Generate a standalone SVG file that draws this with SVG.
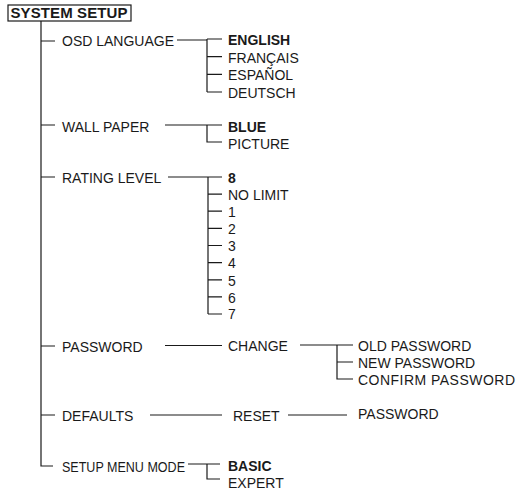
<svg xmlns="http://www.w3.org/2000/svg" width="518" height="493" viewBox="0 0 518 493">
<style>
text{font-family:"Liberation Sans",Arial,sans-serif;font-size:14px;fill:#1a1a1a}
.b{font-weight:bold}
.c{stroke:#1a1a1a;stroke-width:1.2;fill:none}
</style>
<rect width="518" height="493" fill="#fff"/>
<g id="connectors" class="c">
<path d="M41 21V466H53M41 41H55M41 125H55M41 177H55M41 346H55M41 415H55"/>
<path d="M177 40H207M207 39V92M207 39H222M207 56.7H222M207 74.3H222M207 92H222"/>
<path d="M165 125H207V142H222M207 125H222"/>
<path d="M168 177H208V314M208 177H222M208 194.1H222M208 211.2H222M208 228.4H222M208 245.5H222M208 262.6H222M208 279.8H222M208 296.9H222M208 314H222"/>
<path d="M165 345.5H222M300 345H337V379H353M337 362H353M337 345H353"/>
<path d="M150 415H222M288 415H347"/>
<path d="M188 464H207V479H220M207 464H220"/>
</g>
<g id="system-setup"><rect x="8" y="5" width="123" height="16" fill="none" stroke="#1a1a1a" stroke-width="1.2"/><text class="b" x="10.5" y="18" style="font-size:15px" textLength="117">SYSTEM SETUP</text></g>
<g id="osd-language"><text x="62" y="46">OSD LANGUAGE</text></g>
<g id="english"><text class="b" x="228" y="45">ENGLISH</text></g>
<g id="francais"><text x="228" y="62.5">FRANÇAIS</text></g>
<g id="espanol"><text x="228" y="80">ESPAÑOL</text></g>
<g id="deutsch"><text x="228" y="97.5">DEUTSCH</text></g>
<g id="wall-paper"><text x="62" y="131.5">WALL PAPER</text></g>
<g id="blue"><text class="b" x="228" y="132">BLUE</text></g>
<g id="picture"><text x="228" y="148.5">PICTURE</text></g>
<g id="rating-level"><text x="62" y="183">RATING LEVEL</text></g>
<g id="r8"><text class="b" x="228" y="182.5">8</text></g>
<g id="no-limit"><text x="228" y="200">NO LIMIT</text></g>
<g id="r1"><text x="228" y="217">1</text></g>
<g id="r2"><text x="228" y="234">2</text></g>
<g id="r3"><text x="228" y="251">3</text></g>
<g id="r4"><text x="228" y="268">4</text></g>
<g id="r5"><text x="228" y="285.5">5</text></g>
<g id="r6"><text x="228" y="302.5">6</text></g>
<g id="r7"><text x="228" y="319">7</text></g>
<g id="password"><text x="62" y="352">PASSWORD</text></g>
<g id="change"><text x="228" y="351">CHANGE</text></g>
<g id="old-password"><text x="358" y="350.5">OLD PASSWORD</text></g>
<g id="new-password"><text x="358" y="367.5">NEW PASSWORD</text></g>
<g id="confirm-password"><text x="358" y="384.5" textLength="157">CONFIRM PASSWORD</text></g>
<g id="defaults"><text x="62" y="421">DEFAULTS</text></g>
<g id="reset"><text x="233" y="421">RESET</text></g>
<g id="reset-password"><text x="358" y="418.5">PASSWORD</text></g>
<g id="setup-menu-mode"><text x="62" y="472" textLength="123" lengthAdjust="spacingAndGlyphs">SETUP MENU MODE</text></g>
<g id="basic"><text class="b" x="228" y="471">BASIC</text></g>
<g id="expert"><text x="228" y="487.5">EXPERT</text></g>
</svg>
